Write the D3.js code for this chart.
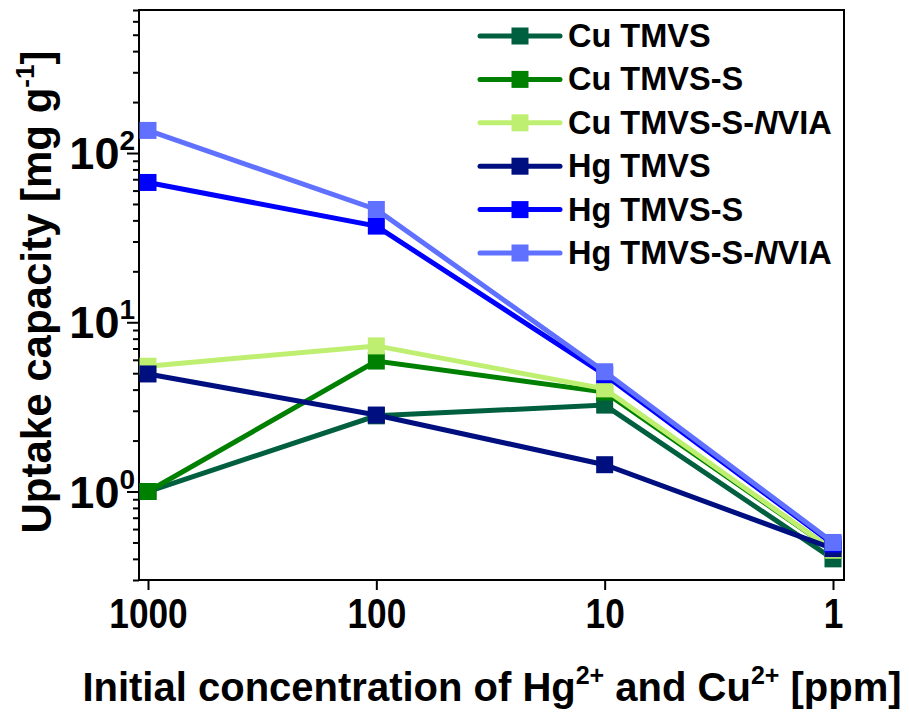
<!DOCTYPE html>
<html>
<head>
<meta charset="utf-8">
<script src="https://cdn.jsdelivr.net/npm/d3@7"></script>
<style>
  html, body { margin: 0; padding: 0; background: #fff; }
  svg { display: block; font-family: "Liberation Sans", Arial, sans-serif; }
</style>
</head>
<body>
<svg id="chart" width="909" height="712"></svg>
<script>
// Initial concentration (ppm), plotted on a reversed log axis
const concentrations = [1000, 100, 10, 1];
const xTickValues = [1000, 100, 10, 1];
const yTickExponents = [0, 1, 2];

// Uptake capacity (mg g^-1) for each sorbent / metal ion
const seriesNames = ["Cu TMVS", "Cu TMVS-S", "Cu TMVS-S-NVIA", "Hg TMVS", "Hg TMVS-S", "Hg TMVS-S-NVIA"];
const cuTMVS      = [1.0, 2.8, 3.24, 0.40];
const cuTMVSS     = [1.0, 5.9, 3.87, 0.45];
const cuTMVSSNVIA = [5.5, 7.25, 4.04, 0.45];
const hgTMVS      = [4.95, 2.83, 1.44, 0.46];
const hgTMVSS     = [67, 37, 4.9, 0.49];
const hgTMVSSNVIA = [136, 46.4, 5.1, 0.50];
const seriesColors = ["#005f3f", "#008000", "#bfef70", "#000f80", "#0000ff", "#6070ff"];

const series = [cuTMVS, cuTMVSS, cuTMVSSNVIA, hgTMVS, hgTMVSS, hgTMVSSNVIA].map((vals, i) => ({
  name: seriesNames[i],
  color: seriesColors[i],
  points: vals.map((v, j) => ({ x: concentrations[j], y: v }))
}));

const svg = d3.select("#chart");
const plot = { left: 139, top: 10, right: 844, bottom: 580 };

const x = d3.scaleLog().domain([1095, 0.895]).range([plot.left, plot.right]);
const y = d3.scaleLog().domain([0.3, 700]).range([plot.bottom, plot.top]);

// Y axis: major decades with long ticks, minor ticks at 2..9
const yMinor = [];
for (let e = -1; e <= 2; e++) {
  for (let m = 2; m <= 9; m++) {
    const v = m * Math.pow(10, e);
    if (v >= 0.3 && v <= 700) yMinor.push(v);
  }
}
const yMinorAxis = d3.axisLeft(y).tickValues(yMinor).tickSize(6).tickFormat("");
const yMajorAxis = d3.axisLeft(y).tickValues(yTickExponents.map(e => Math.pow(10, e))).tickSize(12).tickFormat("");

svg.append("g").attr("transform", `translate(${plot.left},0)`).call(yMinorAxis)
  .call(g => g.select(".domain").remove())
  .selectAll("line").attr("stroke", "#000").attr("stroke-width", 2);
svg.append("g").attr("transform", `translate(${plot.left},0)`).call(yMajorAxis)
  .call(g => g.select(".domain").remove())
  .selectAll("line").attr("stroke", "#000").attr("stroke-width", 2);

// Y tick labels as 10 with superscript exponent
const yLabels = svg.append("g").attr("font-weight", "bold").attr("fill", "#000");
yTickExponents.forEach(e => {
  const t = yLabels.append("text")
    .attr("x", 135).attr("y", y(Math.pow(10, e)) + 16)
    .attr("text-anchor", "end");
  t.append("tspan").attr("font-size", 45).text("10");
  t.append("tspan").attr("font-size", 28).attr("dy", -19).text(String(e));
});

// X axis
const xAxis = d3.axisBottom(x).tickValues(xTickValues).tickSize(10).tickFormat(d3.format("d"));
svg.append("g").attr("transform", `translate(0,${plot.bottom})`).call(xAxis)
  .call(g => g.select(".domain").remove())
  .call(g => g.selectAll("line").attr("stroke", "#000").attr("stroke-width", 2))
  .call(g => g.selectAll("text")
    .attr("y", 17).attr("dy", "0.71em")
    .attr("font-size", 43).attr("font-weight", "bold").attr("fill", "#000")
    .attr("font-family", "'Liberation Sans', Arial, sans-serif")
    .attr("transform", "scale(0.82,1)"));

// Plot frame
svg.append("rect")
  .attr("x", plot.left).attr("y", plot.top)
  .attr("width", plot.right - plot.left).attr("height", plot.bottom - plot.top)
  .attr("fill", "none").attr("stroke", "#000").attr("stroke-width", 2);

// Series lines and square markers
const line = d3.line().x(d => x(d.x)).y(d => y(d.y));
const ms = 17;
series.forEach(s => {
  const g = svg.append("g");
  g.append("path").datum(s.points)
    .attr("d", line).attr("fill", "none")
    .attr("stroke", s.color).attr("stroke-width", 5);
  g.selectAll("rect").data(s.points).join("rect")
    .attr("x", d => x(d.x) - ms / 2).attr("y", d => y(d.y) - ms / 2)
    .attr("width", ms).attr("height", ms)
    .attr("fill", s.color);
});

// Legend
const legend = svg.append("g");
series.forEach((s, i) => {
  const cy = 36 + i * 43.4;
  legend.append("line").attr("x1", 480).attr("x2", 560).attr("y1", cy).attr("y2", cy)
    .attr("stroke", s.color).attr("stroke-width", 5).attr("stroke-linecap", "round");
  legend.append("rect").attr("x", 520 - ms / 2).attr("y", cy - ms / 2)
    .attr("width", ms).attr("height", ms).attr("fill", s.color);
  const t = legend.append("text").attr("x", 568).attr("y", cy + 11)
    .attr("font-size", 32.5).attr("font-weight", "bold").attr("fill", "#000");
  const parts = s.name.split("NVIA");
  t.append("tspan").text(parts[0]);
  if (parts.length > 1) {
    t.append("tspan").attr("font-style", "italic").text("N");
    t.append("tspan").text("VIA");
  }
});

// Axis titles
const xTitle = svg.append("text")
  .attr("x", 0).attr("y", 0)
  .attr("font-size", 40).attr("font-weight", "bold").attr("fill", "#000")
  .attr("text-anchor", "middle")
  .attr("transform", "translate(492,701)");
xTitle.append("tspan").text("Initial concentration of Hg");
xTitle.append("tspan").attr("font-size", 25).attr("dy", -17).text("2+");
xTitle.append("tspan").attr("dy", 17).text(" and Cu");
xTitle.append("tspan").attr("font-size", 25).attr("dy", -17).text("2+");
xTitle.append("tspan").attr("dy", 17).text(" [ppm]");

const yTitle = svg.append("text")
  .attr("font-size", 42).attr("font-weight", "bold").attr("fill", "#000")
  .attr("text-anchor", "middle")
  .attr("transform", "translate(51,292) rotate(-90)");
yTitle.append("tspan").text("Uptake capacity [mg g");
yTitle.append("tspan").attr("font-size", 26).attr("dy", -17).text("-1");
yTitle.append("tspan").attr("dy", 17).text("]");
</script>
</body>
</html>
